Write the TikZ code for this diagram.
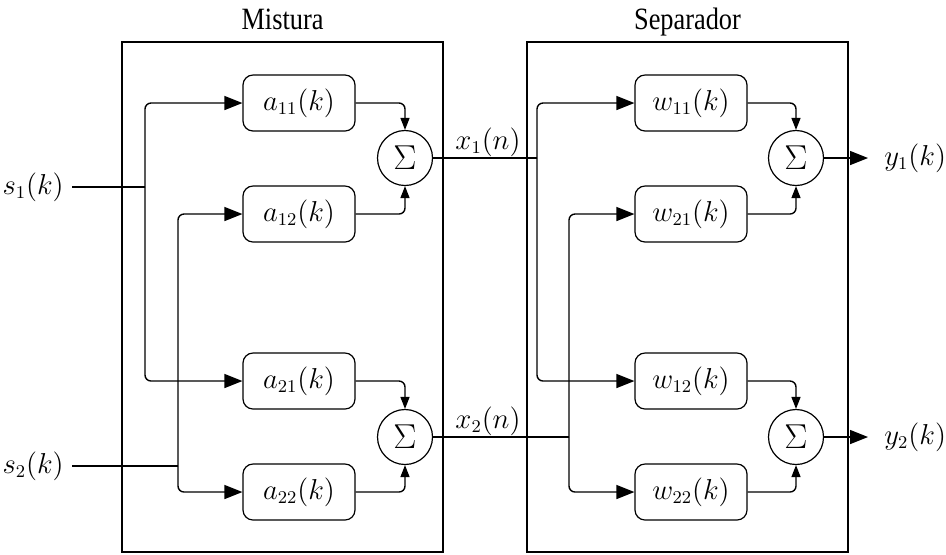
\documentclass[tikz,border=0pt]{standalone}
\usepackage{fontspec}
\newfontfamily\titlefont{Liberation Serif}
\usetikzlibrary{arrows.meta}
\begin{document}
\begin{tikzpicture}[x=0.5pt,y=-0.5pt,
  every node/.style={font=\fontsize{13.5}{16}\selectfont},
  filt/.style={draw, rounded corners=5pt, minimum width=56pt, minimum height=28pt, inner sep=0pt, line width=0.6pt},
  sumnode/.style={draw, circle, minimum size=27.5pt, inner sep=0pt, line width=0.6pt, font=\fontsize{18}{20}\selectfont},
  frame/.style={draw, line width=0.7pt, minimum width=160.5pt, minimum height=255pt, inner sep=0pt},
  wire/.style={line width=0.7pt},
  bigarrow/.style={wire, rounded corners=3pt, -{Triangle[length=9pt,width=7pt]}},
  smallarrow/.style={wire, rounded corners=3pt, -{Triangle[length=6pt,width=4.5pt]}},
  ttl/.style={anchor=base, inner sep=0pt}
]
\useasboundingbox (0,0) rectangle (946,554);

% frames and titles
\node[frame] (mix) at (282.5,297) {};
\node[frame] (sep) at (687.5,297) {};
\node[ttl] (tmix) at (282.5,29) {\scalebox{0.85}[1]{\titlefont\fontsize{15.5}{18}\selectfont Mistura}};
\node[ttl] (tsep) at (687.5,29) {\scalebox{0.85}[1]{\titlefont\fontsize{15.5}{18}\selectfont Separador}};

% inputs
\node[anchor=east, inner sep=4pt] (s1) at (72,187) {$s_1(k)$};
\node[anchor=east, inner sep=4pt] (s2) at (72,466) {$s_2(k)$};

% mixing filters
\node[filt] (a11) at (299,103) {$a_{11}(k)$};
\node[filt] (a12) at (299,214) {$a_{12}(k)$};
\node[filt] (a21) at (299,381) {$a_{21}(k)$};
\node[filt] (a22) at (299,492) {$a_{22}(k)$};
\node[sumnode] (S1) at (405,158) {$\Sigma$};
\node[sumnode] (S2) at (405,437) {$\Sigma$};

% separating filters
\node[filt] (w11) at (691,103) {$w_{11}(k)$};
\node[filt] (w21) at (691,214) {$w_{21}(k)$};
\node[filt] (w12) at (691,381) {$w_{12}(k)$};
\node[filt] (w22) at (691,492) {$w_{22}(k)$};
\node[sumnode] (S3) at (796,158) {$\Sigma$};
\node[sumnode] (S4) at (796,437) {$\Sigma$};

% intermediate labels
\node (x1) at (488,142) {$x_1(n)$};
\node (x2) at (488,421) {$x_2(n)$};

% outputs
\node[anchor=west, inner sep=8pt] (y1) at (868,158) {$y_1(k)$};
\node[anchor=west, inner sep=8pt] (y2) at (868,437) {$y_2(k)$};

% junctions
\coordinate (j1) at (145,187);
\coordinate (j2) at (178,466);
\coordinate (j3) at (537,158);
\coordinate (j4) at (569,437);

% mixing connections
\draw[wire] (s1.east) -- (j1);
\draw[bigarrow] (j1) |- (a11.west);
\draw[bigarrow] (j1) |- (a21.west);
\draw[wire] (s2.east) -- (j2);
\draw[bigarrow] (j2) |- (a12.west);
\draw[bigarrow] (j2) |- (a22.west);
\draw[smallarrow] (a11.east) -| (S1.north);
\draw[smallarrow] (a12.east) -| (S1.south);
\draw[smallarrow] (a21.east) -| (S2.north);
\draw[smallarrow] (a22.east) -| (S2.south);

% separating connections
\draw[wire] (S1.east) -- (j3);
\draw[bigarrow] (j3) |- (w11.west);
\draw[bigarrow] (j3) |- (w12.west);
\draw[wire] (S2.east) -- (j4);
\draw[bigarrow] (j4) |- (w21.west);
\draw[bigarrow] (j4) |- (w22.west);
\draw[smallarrow] (w11.east) -| (S3.north);
\draw[smallarrow] (w21.east) -| (S3.south);
\draw[smallarrow] (w12.east) -| (S4.north);
\draw[smallarrow] (w22.east) -| (S4.south);

% outputs
\draw[bigarrow] (S3.east) -- (y1.west);
\draw[bigarrow] (S4.east) -- (y2.west);
\end{tikzpicture}
\end{document}
